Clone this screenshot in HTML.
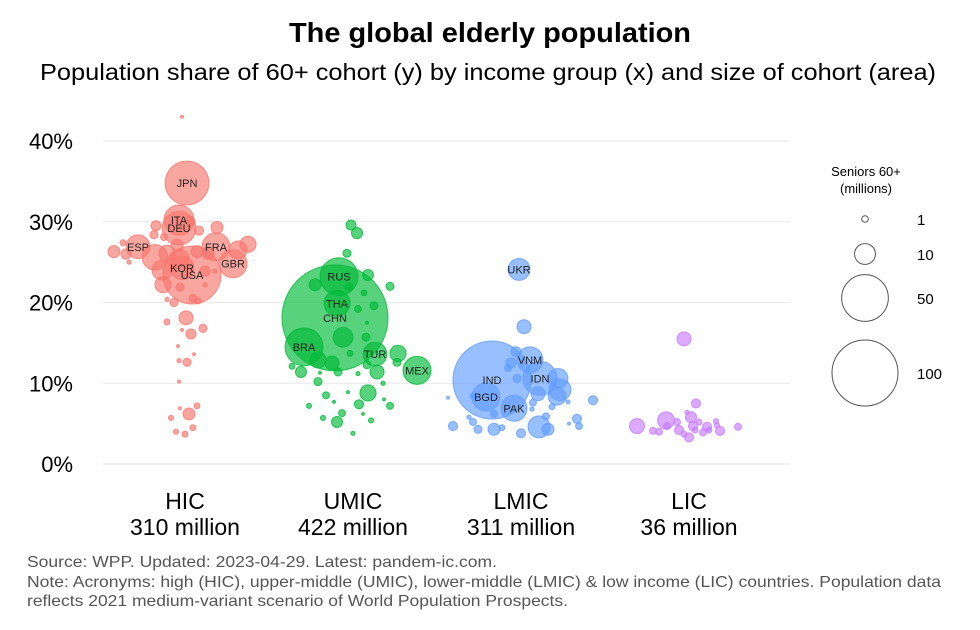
<!DOCTYPE html>
<html><head><meta charset="utf-8"><style>
body{margin:0;background:#fff;}
svg{display:block;font-family:"Liberation Sans",Arial,sans-serif;}
</style></head><body>
<svg id="chart" width="980" height="630" viewBox="0 0 980 630">
<text x="490" y="42" text-anchor="middle" font-size="28" font-weight="bold" fill="#000" textLength="402" lengthAdjust="spacingAndGlyphs">The global elderly population</text>
<text x="488" y="80" text-anchor="middle" font-size="23" fill="#000" textLength="896" lengthAdjust="spacingAndGlyphs">Population share of 60+ cohort (y) by income group (x) and size of cohort (area)</text>
<g id="grid"></g><g id="yticks"></g><g id="xticks"></g><g id="bubbles"></g><g id="labels"></g><g id="legend"></g>
<text x="27" y="567" font-size="16" fill="#555" textLength="470" lengthAdjust="spacingAndGlyphs">Source: WPP. Updated: 2023-04-29. Latest: pandem-ic.com.</text>
<text x="27" y="587" font-size="16" fill="#555" textLength="914" lengthAdjust="spacingAndGlyphs">Note: Acronyms: high (HIC), upper-middle (UMIC), lower-middle (LMIC) &amp; low income (LIC) countries. Population data</text>
<text x="27" y="606" font-size="16" fill="#555" textLength="541" lengthAdjust="spacingAndGlyphs">reflects 2021 medium-variant scenario of World Population Prospects.</text>
</svg>
<script>
const groups = ["HIC","UMIC","LMIC","LIC"];
const groupTotals = ["310 million","422 million","311 million","36 million"];
const groupColors = ["#F8766D","#00BA38","#619CFF","#C77CFF"];
const yTicks = [0,10,20,30,40];
const legendValues = [1,10,50,100];
const ptGroup = [];
const ptJitter = [];
const ptShare = [];
const ptPop = [];
const ptLabel = [];
const hic = [["JPN",2,34.8,44],["ITA",-6,30.2,21],["DEU",-6,29.2,26],["USA",7,23.4,77],["KOR",-3,24.3,13],["ESP",-47,26.9,13],["FRA",31,26.9,18],["GBR",48,24.8,18],
["",-3,43,0.2],["",-29,29.5,2.3],["",-31,28.4,1.5],["",-21,28.1,1.1],["",14,28.9,1.9],["",32,29.3,3.3],["",5,30,2.3],["",-8,27.1,3.3],["",-71,26.3,3.3],["",-62,27.4,0.8],["",-59,26,2.3],["",-56,25,0.4],["",-30,25.6,15],["",-18,26.1,6],["",-23,24,9],["",-22,22.2,6],["",-6,25.4,9],["",12,26.3,3.3],["",23,26.1,3.3],["",63,27.2,6],["",53,26.5,7.4],["",20,23.9,2.3],["",-5,21.9,1.5],["",8,20.5,1.5],["",13,20.2,0.8],["",30,23.9,0.4],["",20,22.2,0.4],["",-11,20,1.5],["",-18,20.4,0.4],["",1,18.1,4.5],["",-18,17.6,0.8],["",6,16.1,2.3],["",18,16.8,1.5],["",-3,16.6,0.2],["",-7,14.6,0.2],["",9,13.6,0.2],["",-6,12.8,0.4],["",2,12.6,1.5],["",-6,10.2,0.2],["",-5,6.9,0.2],["",12,7.2,0.8],["",4,6.2,3.3],["",-14,5.7,0.6],["",8,4.5,0.8],["",-9,4,0.6],["",0,3.7,0.8]];
const umic = [["CHN",-18,18.1,258],["RUS",-14,23.2,33],["THA",-16,19.9,15.5],["BRA",-49,14.5,33],["TUR",22,13.6,13],["MEX",64,11.6,18],
["",-2,29.6,2.3],["",4,28.6,2.8],["",-6,26.1,1.5],["",15,23.4,2.8],["",-38,22.2,3.3],["",-4,21.9,1.5],["",37,22,1.5],["",11,21.2,0.8],["",21,19.6,1.5],["",5,19.2,1.1],["",14,17.5,0.2],["",-10,15.7,9],["",13,15.7,1.5],["",-3,13.7,0.8],["",-35,12.9,6],["",-21,12.5,4.5],["",-15,11.4,1.5],["",45,13.7,6],["",44,12.6,1.5],["",24,11.4,4.5],["",14,12.3,1.5],["",-61,12.1,0.8],["",-52,11.4,2.8],["",-35,10.2,1.5],["",5,11.2,0.4],["",-33,11.3,0.2],["",30,10,0.4],["",15,8.8,6],["",-27,8.5,1.1],["",-5,8.9,0.2],["",-19,7.7,0.2],["",6,7.4,1.9],["",31,8,0.2],["",37,7.2,1.1],["",-44,7.2,0.6],["",-11,6.3,1.1],["",10,6.2,0.2],["",-30,5.7,0.6],["",18,5.4,0.6],["",-16,5.2,2.8],["",0,3.8,0.4]];
const lmic = [["IND",-29,10.4,140],["UKR",-2,24.1,11],["VNM",9,12.9,15.5],["IDN",19,10.6,26.5],["BGD",-35,8.3,18],["PAK",-7,6.9,15.5],
["",3,17,4.5],["",-5,13.9,2.3],["",37,10.6,9],["",39,9.2,11],["",36,8.4,7.4],["",17,8.7,4.5],["",-10,12.5,2.3],["",-13,11.9,1.1],["",-4,10.6,1.5],["",-48,8.4,0.8],["",72,7.9,1.9],["",12,7.6,1.1],["",-73,8.2,0.2],["",-68,4.7,1.9],["",-48,5.2,1.1],["",-43,4.3,1.5],["",-27,4.3,3.3],["",-19,4.5,0.8],["",-27,6.2,1.1],["",0,3.8,1.9],["",18,4.6,11],["",27,4.3,3.3],["",25,5.9,1.1],["",56,5.6,1.9],["",58,4.7,1.1],["",48,5,0.2],["",-52,5.8,0.4],["",11,6.8,0.4],["",31,7.1,0.8],["",47,7.7,0.4]];
const lic = [["",-5,15.5,4.5],["",7,7.5,1.9],["",-52,4.7,5.2],["",-23,5.4,6.6],["",-36,4.1,1.1],["",-30,4,1.1],["",-22,4.7,1.1],["",-12,5.2,1.1],["",-10,4.2,1.9],["",-2,6.4,0.4],["",2,5.8,2.8],["",4,4.7,1.9],["",10,5.2,0.8],["",0,3.3,1.9],["",-5,3.7,0.8],["",6,4.2,0.8],["",18,4.6,1.9],["",14,3.9,1.1],["",20,4.2,0.8],["",27,5.3,0.6],["",31,4.1,1.9],["",49,4.6,1.1],["",28,4.8,0.6]];
[hic,umic,lmic,lic].forEach((arr,g)=>arr.forEach(p=>{ptGroup.push(g);ptLabel.push(p[0]);ptJitter.push(p[1]);ptShare.push(p[2]);ptPop.push(p[3]);}));

const NS="http://www.w3.org/2000/svg";
const xScale=(g,j)=>185+168*(g+(j||0)/168);
const yScale=v=>464-v*8.075;
const rScale=p=>3.3*Math.sqrt(p);
function mk(tag,attrs,parent,text){const e=document.createElementNS(NS,tag);for(const k in attrs)e.setAttribute(k,attrs[k]);if(text!==undefined)e.textContent=text;parent.appendChild(e);return e;}
const grid=document.getElementById('grid'),yt=document.getElementById('yticks'),xt=document.getElementById('xticks');
yTicks.forEach(t=>{
  const l=mk('line',{x1:103,x2:790,y1:yScale(t),y2:yScale(t),stroke:'#ebebeb','stroke-width':1.2},grid);
  
  
  const tx=mk('text',{x:73,y:yScale(t)+8,'text-anchor':'end','font-size':22,fill:'#000'},yt,t+'%');
  
  
});
groups.forEach((g,i)=>{
  const a=mk('text',{x:xScale(i),y:509,'text-anchor':'middle','font-size':23,fill:'#000'},xt,g);
  
  
  const b=mk('text',{x:xScale(i),y:535,'text-anchor':'middle','font-size':23,fill:'#000'},xt,groupTotals[i]);
  
  
});
const bub=document.getElementById('bubbles'),lab=document.getElementById('labels');
const idx=ptPop.map((_,i)=>i).sort((a,b)=>ptPop[b]-ptPop[a]);
idx.forEach(i=>{
  const c=mk('circle',{cx:xScale(ptGroup[i],ptJitter[i]),cy:yScale(ptShare[i]),r:rScale(ptPop[i]),fill:groupColors[ptGroup[i]],'fill-opacity':0.65,stroke:groupColors[ptGroup[i]],'stroke-opacity':0.8,'stroke-width':1},bub);
  
  
});
ptLabel.forEach((l,i)=>{ if(!l) return;
  const t=mk('text',{x:xScale(ptGroup[i],ptJitter[i]),y:yScale(ptShare[i])+4,'text-anchor':'middle','font-size':11,fill:'#222'},lab,l);
  
  
});
const lg=document.getElementById('legend');
const lt1=mk('text',{x:866,y:176,'text-anchor':'middle','font-size':13,fill:'#000'},lg,'Seniors 60+');


const lt2=mk('text',{x:866,y:193,'text-anchor':'middle','font-size':13,fill:'#000'},lg,'(millions)');


const legendRowY=[219,254,298,373];
legendValues.forEach((v,k)=>{
  const cy=legendRowY[k];
  const c=mk('circle',{cx:865,cy:cy,r:rScale(v),fill:'none',stroke:'#555','stroke-width':1},lg);
  
  
  const t=mk('text',{x:917,y:cy+6,'font-size':15,fill:'#000'},lg,String(v));
  
  
});
</script>
</body></html>
